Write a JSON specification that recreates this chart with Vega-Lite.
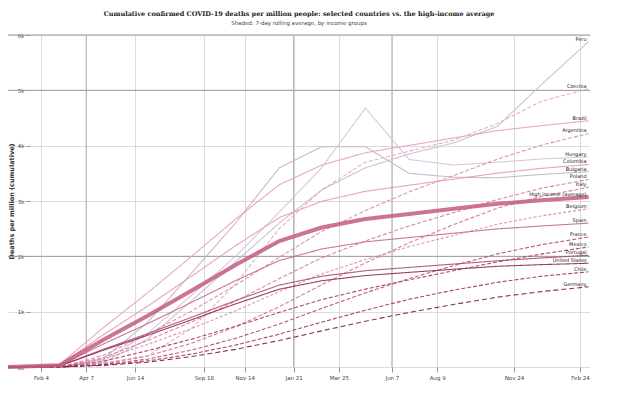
{
  "$schema": "https://vega.github.io/schema/vega-lite/v6.json",
  "width": 582,
  "height": 332,
  "autosize": {"type": "none"},
  "padding": {"left": 8, "top": 35, "right": 50, "bottom": 26},
  "background": "white",
  "title": {
    "text": "Cumulative confirmed COVID-19 deaths per million people: selected countries vs. the high-income average",
    "subtitle": "Shaded: 7-day rolling average, by income groups",
    "fontSize": 6.5,
    "subtitleFontSize": 5.5,
    "font": "DejaVu Serif",
    "subtitleFont": "DejaVu Sans",
    "fontWeight": "bold",
    "color": "#222",
    "subtitleColor": "#444",
    "anchor": "middle",
    "offset": 7,
    "subtitlePadding": 3
  },
  "config": {
    "view": {"stroke": null},
    "axis": {
      "labelFont": "DejaVu Sans",
      "titleFont": "DejaVu Sans",
      "labelFontSize": 5.5,
      "titleFontSize": 6.5,
      "labelColor": "#444",
      "titleColor": "#333",
      "gridColor": "#dcdcdc",
      "tickColor": "#999",
      "domain": false
    }
  },
  "datasets": {
    "lines": [
      {"s": "Peru", "d": "2019-12-20", "v": 0}, {"s": "Peru", "d": "2020-03-01", "v": 0}, {"s": "Peru", "d": "2020-05-01", "v": 80}, {"s": "Peru", "d": "2020-07-01", "v": 500}, {"s": "Peru", "d": "2020-09-01", "v": 1200}, {"s": "Peru", "d": "2020-11-01", "v": 1900}, {"s": "Peru", "d": "2021-01-01", "v": 2600}, {"s": "Peru", "d": "2021-03-01", "v": 3200}, {"s": "Peru", "d": "2021-05-01", "v": 3600}, {"s": "Peru", "d": "2021-07-01", "v": 3850}, {"s": "Peru", "d": "2021-09-01", "v": 4050}, {"s": "Peru", "d": "2021-11-01", "v": 4350}, {"s": "Peru", "d": "2022-01-01", "v": 5100}, {"s": "Peru", "d": "2022-03-08", "v": 5880},
      {"s": "Bulgaria", "d": "2019-12-20", "v": 0}, {"s": "Bulgaria", "d": "2020-03-01", "v": 0}, {"s": "Bulgaria", "d": "2020-05-01", "v": 150}, {"s": "Bulgaria", "d": "2020-07-01", "v": 800}, {"s": "Bulgaria", "d": "2020-09-01", "v": 1700}, {"s": "Bulgaria", "d": "2020-11-01", "v": 2600}, {"s": "Bulgaria", "d": "2021-01-01", "v": 3600}, {"s": "Bulgaria", "d": "2021-03-01", "v": 3980}, {"s": "Bulgaria", "d": "2021-05-01", "v": 3980}, {"s": "Bulgaria", "d": "2021-07-01", "v": 3500}, {"s": "Bulgaria", "d": "2021-09-01", "v": 3430}, {"s": "Bulgaria", "d": "2021-11-01", "v": 3420}, {"s": "Bulgaria", "d": "2022-01-01", "v": 3480}, {"s": "Bulgaria", "d": "2022-03-08", "v": 3530},
      {"s": "Hungary", "d": "2019-12-20", "v": 0}, {"s": "Hungary", "d": "2020-03-01", "v": 0}, {"s": "Hungary", "d": "2020-05-01", "v": 120}, {"s": "Hungary", "d": "2020-07-01", "v": 600}, {"s": "Hungary", "d": "2020-09-01", "v": 1300}, {"s": "Hungary", "d": "2020-11-01", "v": 2000}, {"s": "Hungary", "d": "2021-01-01", "v": 2800}, {"s": "Hungary", "d": "2021-03-01", "v": 3600}, {"s": "Hungary", "d": "2021-05-01", "v": 4680}, {"s": "Hungary", "d": "2021-07-01", "v": 3750}, {"s": "Hungary", "d": "2021-09-01", "v": 3650}, {"s": "Hungary", "d": "2021-11-01", "v": 3700}, {"s": "Hungary", "d": "2022-01-01", "v": 3760}, {"s": "Hungary", "d": "2022-03-08", "v": 3800},
      {"s": "Czechia", "d": "2019-12-20", "v": 0}, {"s": "Czechia", "d": "2020-03-01", "v": 0}, {"s": "Czechia", "d": "2020-05-01", "v": 50}, {"s": "Czechia", "d": "2020-07-01", "v": 200}, {"s": "Czechia", "d": "2020-09-01", "v": 700}, {"s": "Czechia", "d": "2020-11-01", "v": 1500}, {"s": "Czechia", "d": "2021-01-01", "v": 2500}, {"s": "Czechia", "d": "2021-03-01", "v": 3200}, {"s": "Czechia", "d": "2021-05-01", "v": 3700}, {"s": "Czechia", "d": "2021-07-01", "v": 3900}, {"s": "Czechia", "d": "2021-09-01", "v": 4100}, {"s": "Czechia", "d": "2021-11-01", "v": 4400}, {"s": "Czechia", "d": "2022-01-01", "v": 4800}, {"s": "Czechia", "d": "2022-03-08", "v": 5030},
      {"s": "Brazil", "d": "2019-12-20", "v": 0}, {"s": "Brazil", "d": "2020-03-01", "v": 45}, {"s": "Brazil", "d": "2020-05-01", "v": 712}, {"s": "Brazil", "d": "2020-07-01", "v": 1335}, {"s": "Brazil", "d": "2020-09-01", "v": 2003}, {"s": "Brazil", "d": "2020-11-01", "v": 2670}, {"s": "Brazil", "d": "2021-01-01", "v": 3293}, {"s": "Brazil", "d": "2021-03-01", "v": 3649}, {"s": "Brazil", "d": "2021-05-01", "v": 3872}, {"s": "Brazil", "d": "2021-07-01", "v": 4005}, {"s": "Brazil", "d": "2021-09-01", "v": 4139}, {"s": "Brazil", "d": "2021-11-01", "v": 4272}, {"s": "Brazil", "d": "2022-01-01", "v": 4361}, {"s": "Brazil", "d": "2022-03-08", "v": 4450},
      {"s": "Argentina", "d": "2019-12-20", "v": 0}, {"s": "Argentina", "d": "2020-03-01", "v": 0}, {"s": "Argentina", "d": "2020-05-01", "v": 211}, {"s": "Argentina", "d": "2020-07-01", "v": 591}, {"s": "Argentina", "d": "2020-09-01", "v": 1013}, {"s": "Argentina", "d": "2020-11-01", "v": 1477}, {"s": "Argentina", "d": "2021-01-01", "v": 1983}, {"s": "Argentina", "d": "2021-03-01", "v": 2448}, {"s": "Argentina", "d": "2021-05-01", "v": 2827}, {"s": "Argentina", "d": "2021-07-01", "v": 3165}, {"s": "Argentina", "d": "2021-09-01", "v": 3460}, {"s": "Argentina", "d": "2021-11-01", "v": 3756}, {"s": "Argentina", "d": "2022-01-01", "v": 4009}, {"s": "Argentina", "d": "2022-03-08", "v": 4220},
      {"s": "Colombia", "d": "2019-12-20", "v": 0}, {"s": "Colombia", "d": "2020-03-01", "v": 37}, {"s": "Colombia", "d": "2020-05-01", "v": 584}, {"s": "Colombia", "d": "2020-07-01", "v": 1095}, {"s": "Colombia", "d": "2020-09-01", "v": 1643}, {"s": "Colombia", "d": "2020-11-01", "v": 2190}, {"s": "Colombia", "d": "2021-01-01", "v": 2701}, {"s": "Colombia", "d": "2021-03-01", "v": 2993}, {"s": "Colombia", "d": "2021-05-01", "v": 3176}, {"s": "Colombia", "d": "2021-07-01", "v": 3285}, {"s": "Colombia", "d": "2021-09-01", "v": 3395}, {"s": "Colombia", "d": "2021-11-01", "v": 3504}, {"s": "Colombia", "d": "2022-01-01", "v": 3590}, {"s": "Colombia", "d": "2022-03-08", "v": 3660},
      {"s": "Poland", "d": "2019-12-20", "v": 0}, {"s": "Poland", "d": "2020-03-01", "v": 0}, {"s": "Poland", "d": "2020-05-01", "v": 170}, {"s": "Poland", "d": "2020-07-01", "v": 476}, {"s": "Poland", "d": "2020-09-01", "v": 816}, {"s": "Poland", "d": "2020-11-01", "v": 1190}, {"s": "Poland", "d": "2021-01-01", "v": 1598}, {"s": "Poland", "d": "2021-03-01", "v": 1972}, {"s": "Poland", "d": "2021-05-01", "v": 2278}, {"s": "Poland", "d": "2021-07-01", "v": 2550}, {"s": "Poland", "d": "2021-09-01", "v": 2788}, {"s": "Poland", "d": "2021-11-01", "v": 3026}, {"s": "Poland", "d": "2022-01-01", "v": 3230}, {"s": "Poland", "d": "2022-03-08", "v": 3390},
      {"s": "Italy", "d": "2019-12-20", "v": 0}, {"s": "Italy", "d": "2020-03-01", "v": 0}, {"s": "Italy", "d": "2020-05-01", "v": 66}, {"s": "Italy", "d": "2020-07-01", "v": 198}, {"s": "Italy", "d": "2020-09-01", "v": 429}, {"s": "Italy", "d": "2020-11-01", "v": 726}, {"s": "Italy", "d": "2021-01-01", "v": 1089}, {"s": "Italy", "d": "2021-03-01", "v": 1485}, {"s": "Italy", "d": "2021-05-01", "v": 1881}, {"s": "Italy", "d": "2021-07-01", "v": 2244}, {"s": "Italy", "d": "2021-09-01", "v": 2574}, {"s": "Italy", "d": "2021-11-01", "v": 2871}, {"s": "Italy", "d": "2022-01-01", "v": 3080}, {"s": "Italy", "d": "2022-03-08", "v": 3250},
      {"s": "High income (average)", "d": "2019-12-20", "v": 0}, {"s": "High income (average)", "d": "2020-03-01", "v": 31}, {"s": "High income (average)", "d": "2020-05-01", "v": 492}, {"s": "High income (average)", "d": "2020-07-01", "v": 922}, {"s": "High income (average)", "d": "2020-09-01", "v": 1383}, {"s": "High income (average)", "d": "2020-11-01", "v": 1844}, {"s": "High income (average)", "d": "2021-01-01", "v": 2275}, {"s": "High income (average)", "d": "2021-03-01", "v": 2521}, {"s": "High income (average)", "d": "2021-05-01", "v": 2674}, {"s": "High income (average)", "d": "2021-07-01", "v": 2767}, {"s": "High income (average)", "d": "2021-09-01", "v": 2859}, {"s": "High income (average)", "d": "2021-11-01", "v": 2951}, {"s": "High income (average)", "d": "2022-01-01", "v": 3013}, {"s": "High income (average)", "d": "2022-03-08", "v": 3074},
      {"s": "Belgium", "d": "2019-12-20", "v": 0}, {"s": "Belgium", "d": "2020-03-01", "v": 0}, {"s": "Belgium", "d": "2020-05-01", "v": 145}, {"s": "Belgium", "d": "2020-07-01", "v": 406}, {"s": "Belgium", "d": "2020-09-01", "v": 696}, {"s": "Belgium", "d": "2020-11-01", "v": 1015}, {"s": "Belgium", "d": "2021-01-01", "v": 1363}, {"s": "Belgium", "d": "2021-03-01", "v": 1682}, {"s": "Belgium", "d": "2021-05-01", "v": 1943}, {"s": "Belgium", "d": "2021-07-01", "v": 2175}, {"s": "Belgium", "d": "2021-09-01", "v": 2378}, {"s": "Belgium", "d": "2021-11-01", "v": 2581}, {"s": "Belgium", "d": "2022-01-01", "v": 2730}, {"s": "Belgium", "d": "2022-03-08", "v": 2860},
      {"s": "Spain", "d": "2019-12-20", "v": 0}, {"s": "Spain", "d": "2020-03-01", "v": 26}, {"s": "Spain", "d": "2020-05-01", "v": 416}, {"s": "Spain", "d": "2020-07-01", "v": 780}, {"s": "Spain", "d": "2020-09-01", "v": 1170}, {"s": "Spain", "d": "2020-11-01", "v": 1560}, {"s": "Spain", "d": "2021-01-01", "v": 1924}, {"s": "Spain", "d": "2021-03-01", "v": 2132}, {"s": "Spain", "d": "2021-05-01", "v": 2262}, {"s": "Spain", "d": "2021-07-01", "v": 2340}, {"s": "Spain", "d": "2021-09-01", "v": 2418}, {"s": "Spain", "d": "2021-11-01", "v": 2496}, {"s": "Spain", "d": "2022-01-01", "v": 2548}, {"s": "Spain", "d": "2022-03-08", "v": 2600},
      {"s": "France", "d": "2019-12-20", "v": 0}, {"s": "France", "d": "2020-03-01", "v": 0}, {"s": "France", "d": "2020-05-01", "v": 47}, {"s": "France", "d": "2020-07-01", "v": 141}, {"s": "France", "d": "2020-09-01", "v": 306}, {"s": "France", "d": "2020-11-01", "v": 517}, {"s": "France", "d": "2021-01-01", "v": 776}, {"s": "France", "d": "2021-03-01", "v": 1058}, {"s": "France", "d": "2021-05-01", "v": 1340}, {"s": "France", "d": "2021-07-01", "v": 1598}, {"s": "France", "d": "2021-09-01", "v": 1833}, {"s": "France", "d": "2021-11-01", "v": 2045}, {"s": "France", "d": "2022-01-01", "v": 2209}, {"s": "France", "d": "2022-03-08", "v": 2350},
      {"s": "Mexico", "d": "2019-12-20", "v": 0}, {"s": "Mexico", "d": "2020-03-01", "v": 0}, {"s": "Mexico", "d": "2020-05-01", "v": 105}, {"s": "Mexico", "d": "2020-07-01", "v": 294}, {"s": "Mexico", "d": "2020-09-01", "v": 504}, {"s": "Mexico", "d": "2020-11-01", "v": 735}, {"s": "Mexico", "d": "2021-01-01", "v": 987}, {"s": "Mexico", "d": "2021-03-01", "v": 1218}, {"s": "Mexico", "d": "2021-05-01", "v": 1407}, {"s": "Mexico", "d": "2021-07-01", "v": 1575}, {"s": "Mexico", "d": "2021-09-01", "v": 1740}, {"s": "Mexico", "d": "2021-11-01", "v": 1900}, {"s": "Mexico", "d": "2022-01-01", "v": 2040}, {"s": "Mexico", "d": "2022-03-08", "v": 2170},
      {"s": "Portugal", "d": "2019-12-20", "v": 0}, {"s": "Portugal", "d": "2020-03-01", "v": 20}, {"s": "Portugal", "d": "2020-05-01", "v": 320}, {"s": "Portugal", "d": "2020-07-01", "v": 600}, {"s": "Portugal", "d": "2020-09-01", "v": 900}, {"s": "Portugal", "d": "2020-11-01", "v": 1200}, {"s": "Portugal", "d": "2021-01-01", "v": 1480}, {"s": "Portugal", "d": "2021-03-01", "v": 1640}, {"s": "Portugal", "d": "2021-05-01", "v": 1740}, {"s": "Portugal", "d": "2021-07-01", "v": 1800}, {"s": "Portugal", "d": "2021-09-01", "v": 1860}, {"s": "Portugal", "d": "2021-11-01", "v": 1920}, {"s": "Portugal", "d": "2022-01-01", "v": 1970}, {"s": "Portugal", "d": "2022-03-08", "v": 2020},
      {"s": "United States", "d": "2019-12-20", "v": 0}, {"s": "United States", "d": "2020-03-01", "v": 19}, {"s": "United States", "d": "2020-05-01", "v": 304}, {"s": "United States", "d": "2020-07-01", "v": 570}, {"s": "United States", "d": "2020-09-01", "v": 855}, {"s": "United States", "d": "2020-11-01", "v": 1140}, {"s": "United States", "d": "2021-01-01", "v": 1406}, {"s": "United States", "d": "2021-03-01", "v": 1558}, {"s": "United States", "d": "2021-05-01", "v": 1653}, {"s": "United States", "d": "2021-07-01", "v": 1710}, {"s": "United States", "d": "2021-09-01", "v": 1767}, {"s": "United States", "d": "2021-11-01", "v": 1820}, {"s": "United States", "d": "2022-01-01", "v": 1850}, {"s": "United States", "d": "2022-03-08", "v": 1875},
      {"s": "Chile", "d": "2019-12-20", "v": 0}, {"s": "Chile", "d": "2020-03-01", "v": 0}, {"s": "Chile", "d": "2020-05-01", "v": 36}, {"s": "Chile", "d": "2020-07-01", "v": 108}, {"s": "Chile", "d": "2020-09-01", "v": 234}, {"s": "Chile", "d": "2020-11-01", "v": 396}, {"s": "Chile", "d": "2021-01-01", "v": 594}, {"s": "Chile", "d": "2021-03-01", "v": 810}, {"s": "Chile", "d": "2021-05-01", "v": 1026}, {"s": "Chile", "d": "2021-07-01", "v": 1224}, {"s": "Chile", "d": "2021-09-01", "v": 1390}, {"s": "Chile", "d": "2021-11-01", "v": 1530}, {"s": "Chile", "d": "2022-01-01", "v": 1640}, {"s": "Chile", "d": "2022-03-08", "v": 1720},
      {"s": "Germany", "d": "2019-12-20", "v": 0}, {"s": "Germany", "d": "2020-03-01", "v": 0}, {"s": "Germany", "d": "2020-05-01", "v": 29}, {"s": "Germany", "d": "2020-07-01", "v": 87}, {"s": "Germany", "d": "2020-09-01", "v": 189}, {"s": "Germany", "d": "2020-11-01", "v": 319}, {"s": "Germany", "d": "2021-01-01", "v": 479}, {"s": "Germany", "d": "2021-03-01", "v": 653}, {"s": "Germany", "d": "2021-05-01", "v": 827}, {"s": "Germany", "d": "2021-07-01", "v": 986}, {"s": "Germany", "d": "2021-09-01", "v": 1131}, {"s": "Germany", "d": "2021-11-01", "v": 1262}, {"s": "Germany", "d": "2022-01-01", "v": 1363}, {"s": "Germany", "d": "2022-03-08", "v": 1450}
    ]
  },
  "data": {"name": "lines"},
  "layer": [
    {
      "data": {"values": [{"y": 2000}, {"y": 5000}, {"y": 6000}]},
      "mark": {"type": "rule", "color": "#9a9a9a", "strokeWidth": 1},
      "encoding": {"y": {"field": "y", "type": "quantitative", "scale": {"domain": [0, 6000]}}}
    },
    {
      "data": {"values": [{"d": "2020-04-07"}, {"d": "2021-01-21"}, {"d": "2021-06-07"}]},
      "mark": {"type": "rule", "color": "#b0b0b0", "strokeWidth": 1},
      "encoding": {"x": {"field": "d", "type": "temporal"}}
    },
    {
      "transform": [{"filter": "datum.s !== 'High income (average)'"}],
      "mark": {"type": "line", "strokeWidth": 1.1, "opacity": 0.9},
      "encoding": {
        "x": {
          "field": "d", "type": "temporal",
          "scale": {"type": "utc", "domain": [{"year": 2019, "month": 12, "date": 20, "utc": true}, {"year": 2022, "month": 3, "date": 10, "utc": true}]},
          "axis": {
            "title": null, "format": "%b %-d", "grid": true, "tickSize": 5, "labelPadding": 3,
            "values": [
              {"year": 2020, "month": 2, "date": 4, "utc": true},
              {"year": 2020, "month": 4, "date": 7, "utc": true},
              {"year": 2020, "month": 6, "date": 14, "utc": true},
              {"year": 2020, "month": 9, "date": 18, "utc": true},
              {"year": 2020, "month": 11, "date": 14, "utc": true},
              {"year": 2021, "month": 1, "date": 21, "utc": true},
              {"year": 2021, "month": 3, "date": 25, "utc": true},
              {"year": 2021, "month": 6, "date": 7, "utc": true},
              {"year": 2021, "month": 8, "date": 9, "utc": true},
              {"year": 2021, "month": 11, "date": 24, "utc": true},
              {"year": 2022, "month": 2, "date": 24, "utc": true}
            ]
          }
        },
        "y": {
          "field": "v", "type": "quantitative",
          "scale": {"domain": [0, 6000], "nice": false},
          "axis": {"title": "Deaths per million (cumulative)", "offset": -22, "tickCount": 6, "format": "~s", "tickSize": 4, "labelPadding": 2, "titlePadding": 3, "grid": true}
        },
        "color": {
          "field": "s", "type": "nominal", "legend": null,
          "scale": {
            "domain": ["Peru", "Bulgaria", "Hungary", "Czechia", "Brazil", "Argentina", "Colombia", "Poland", "Italy", "Belgium", "Spain", "France", "Mexico", "Portugal", "United States", "Chile", "Germany"],
            "range": ["#cbb8d6", "#c4b0cc", "#d8c0da", "#e2a9bf", "#e6a0b8", "#dc8aa6", "#e59ab3", "#d4799a", "#cf6f90", "#d98aa6", "#c86888", "#b84a70", "#a83a62", "#b04a6e", "#8e2a50", "#9c3358", "#7a1f42"]
          }
        },
        "strokeDash": {
          "field": "s", "type": "nominal", "legend": null,
          "scale": {
            "domain": ["Peru", "Bulgaria", "Hungary", "Czechia", "Brazil", "Argentina", "Colombia", "Poland", "Italy", "Belgium", "Spain", "France", "Mexico", "Portugal", "United States", "Chile", "Germany"],
            "range": [[1, 0], [1, 0], [1, 0], [4, 2], [1, 0], [4, 2], [1, 0], [4, 2], [4, 2], [3, 2], [1, 0], [4, 2], [4, 2], [1, 0], [1, 0], [4, 2], [5, 3]]
          }
        }
      }
    },
    {
      "transform": [{"filter": "datum.s === 'High income (average)'"}],
      "mark": {"type": "line", "strokeWidth": 4, "color": "#c25c80", "opacity": 0.85},
      "encoding": {
        "x": {"field": "d", "type": "temporal"},
        "y": {"field": "v", "type": "quantitative"}
      }
    },
    {
      "transform": [{"filter": {"field": "d", "timeUnit": "utcyearmonthdate", "equal": {"year": 2022, "month": 3, "date": 8, "utc": true}}}],
      "mark": {"type": "text", "align": "right", "dx": -2, "dy": -3, "fontSize": 5, "font": "DejaVu Sans", "color": "#222"},
      "encoding": {
        "x": {"field": "d", "type": "temporal"},
        "y": {"field": "v", "type": "quantitative"},
        "text": {"field": "s", "type": "nominal"}
      }
    }
  ]
}
